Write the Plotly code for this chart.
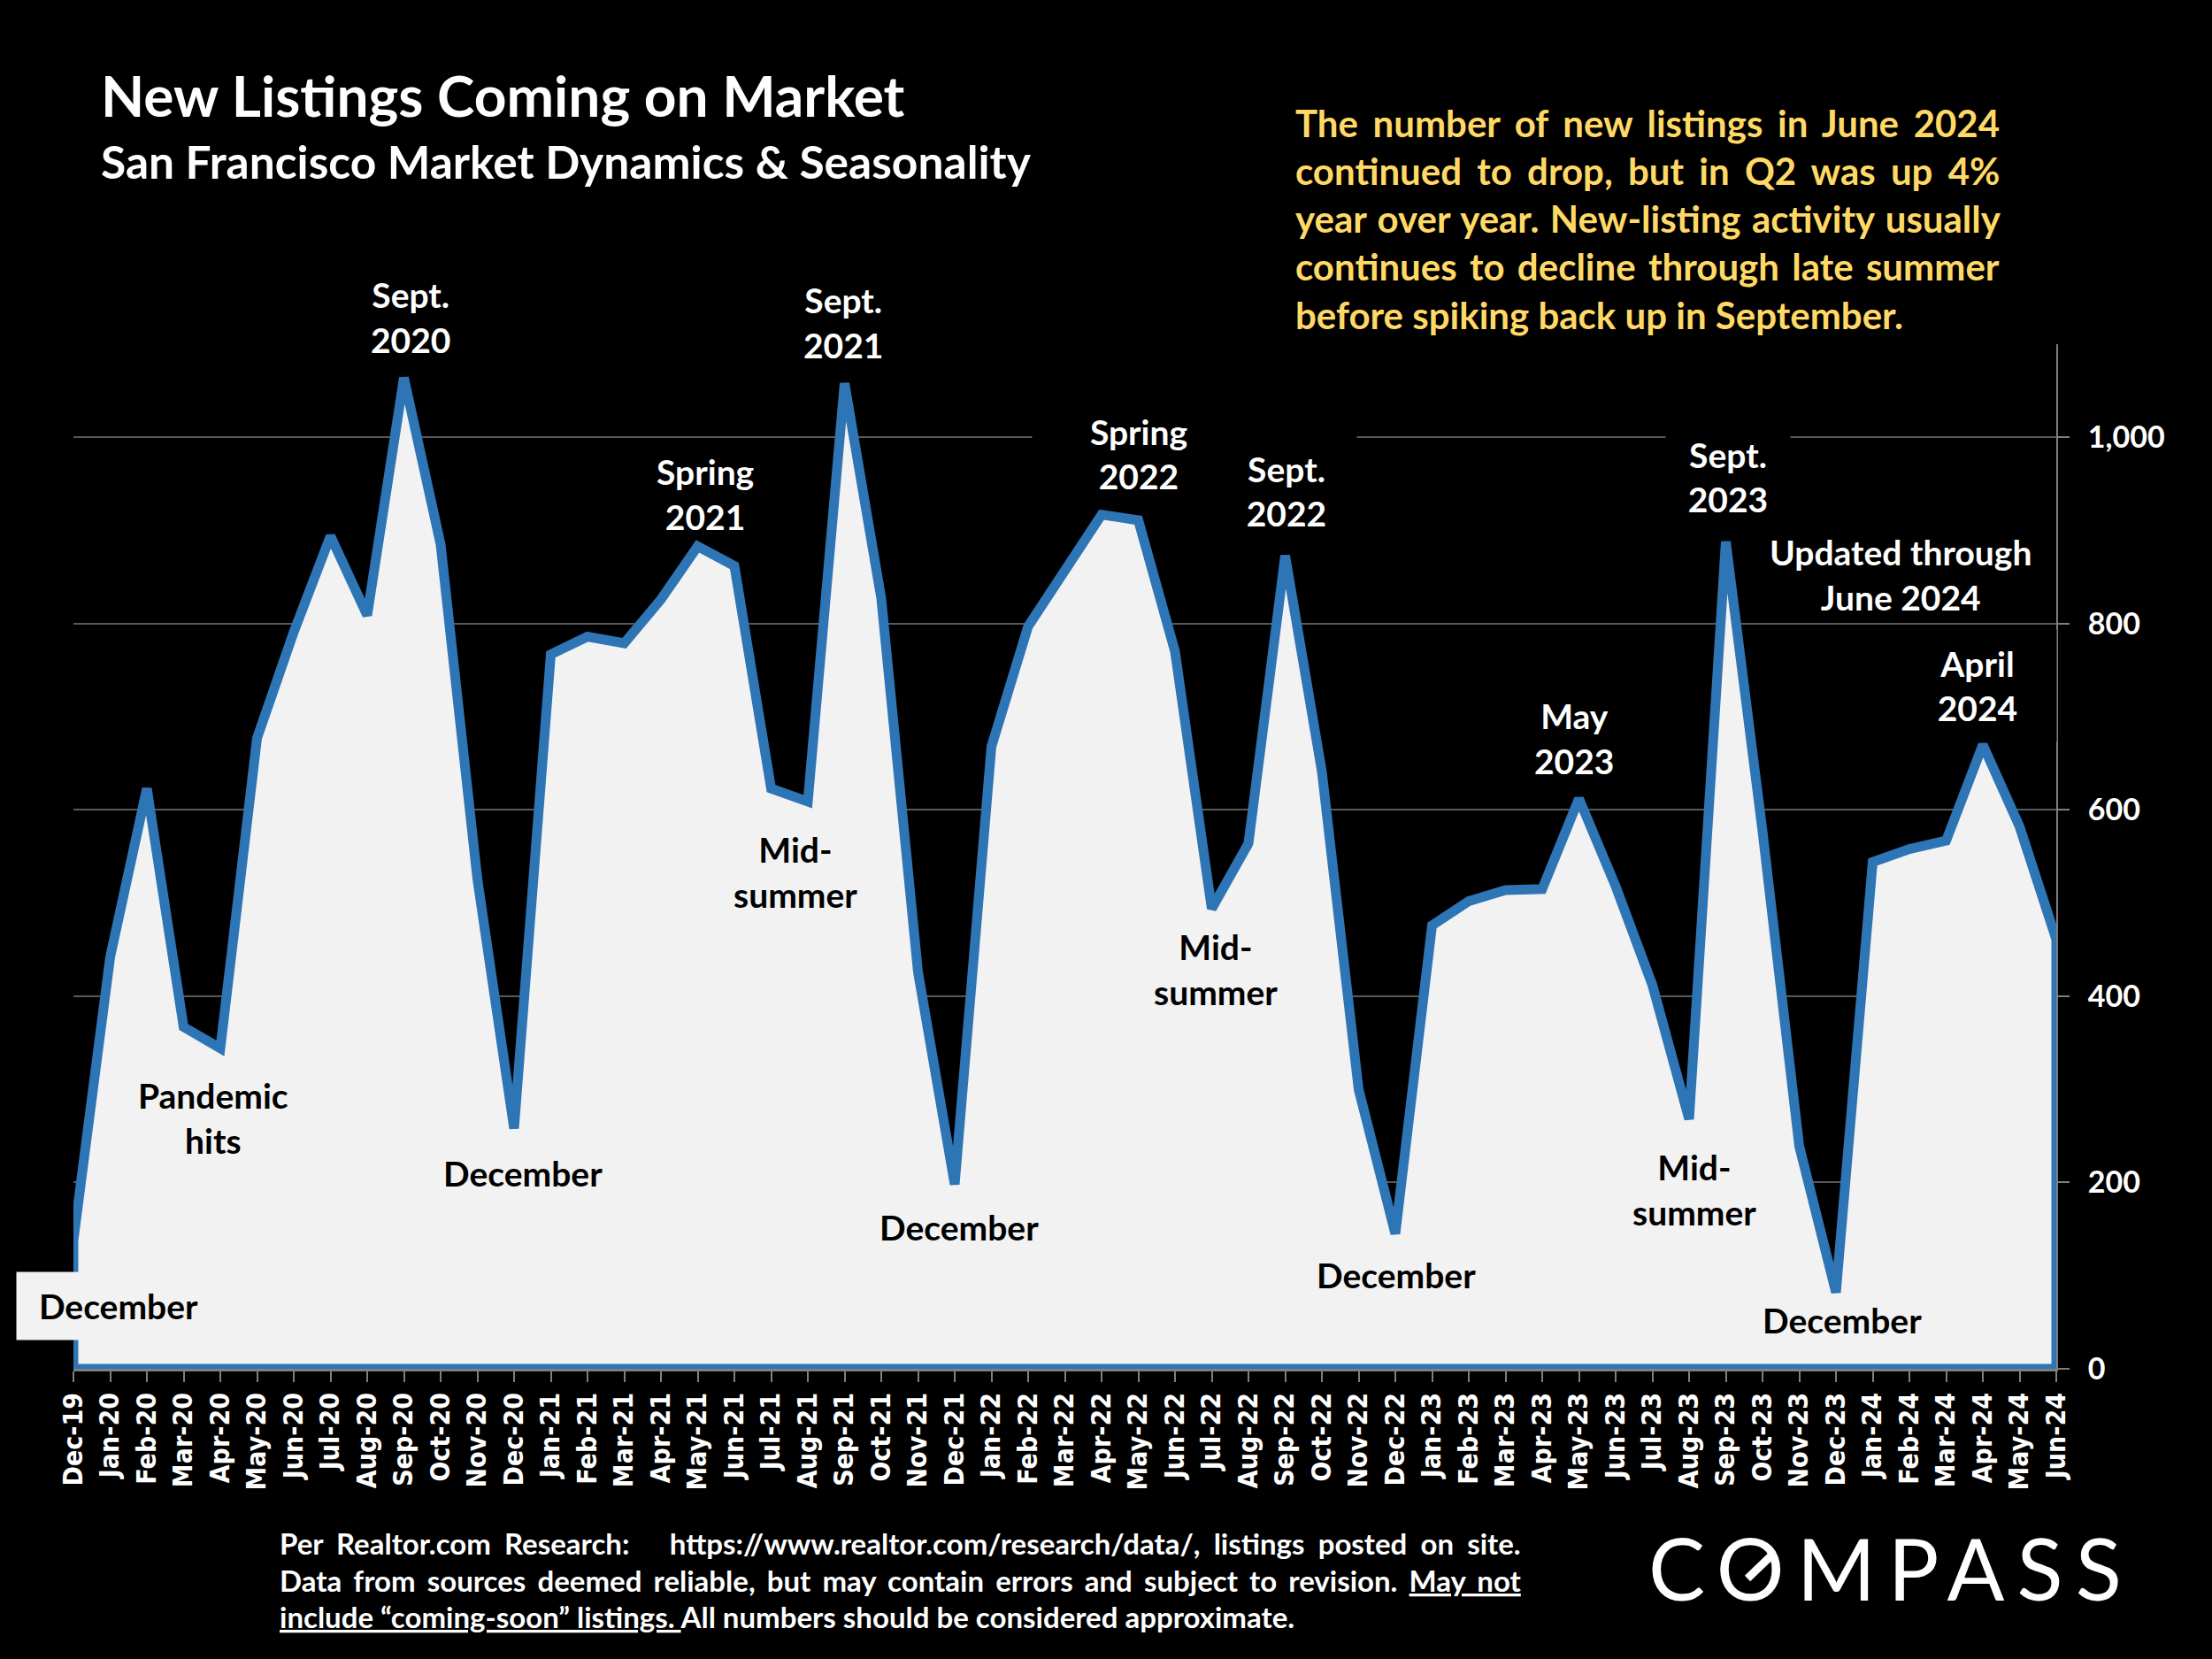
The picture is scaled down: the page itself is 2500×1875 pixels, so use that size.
import plotly.graph_objects as go

months = ["Dec-19","Jan-20","Feb-20","Mar-20","Apr-20","May-20","Jun-20","Jul-20","Aug-20","Sep-20","Oct-20","Nov-20",
          "Dec-20","Jan-21","Feb-21","Mar-21","Apr-21","May-21","Jun-21","Jul-21","Aug-21","Sep-21","Oct-21","Nov-21",
          "Dec-21","Jan-22","Feb-22","Mar-22","Apr-22","May-22","Jun-22","Jul-22","Aug-22","Sep-22","Oct-22","Nov-22",
          "Dec-22","Jan-23","Feb-23","Mar-23","Apr-23","May-23","Jun-23","Jul-23","Aug-23","Sep-23","Oct-23","Nov-23",
          "Dec-23","Jan-24","Feb-24","Mar-24","Apr-24","May-24","Jun-24"]
listings = [138,442,623,367,344,677,791,894,809,1064,885,526,
            258,767,786,779,826,883,862,623,609,1058,827,426,
            198,668,797,856,917,911,770,494,564,873,641,300,
            145,476,502,514,515,612,518,412,268,888,577,239,
            82,544,558,567,670,582,461]
y_ticks = [0,200,400,600,800,1000]

W, H = 2500, 1875
L, R, T, B = 83, 2324, 389, 1547
FONT = "Lato"
BLUE = "#2E75B6"
FILL = "#F2F2F2"

def px(x): return (x - L) / (R - L)
def py(y): return (B - y) / (B - T)

annotations = []
def text(x, y, s, size, color="white", anchor="center", bg=None, ws=None, ls=None, w=None, h=None, weight=700, family=FONT):
    style = ""
    if ws is not None: style += f"word-spacing:{ws}px;"
    if ls is not None: style += f"letter-spacing:{ls}px;"
    if style: s = f'<span style="{style}">{s}</span>'
    a = dict(x=px(x), y=py(y), xref="paper", yref="paper", text=s, showarrow=False, xanchor=anchor, yanchor="middle",
             align=anchor, font=dict(family=family, size=size, color=color, weight=weight), borderpad=0)
    if bg: a["bgcolor"] = bg
    if w: a["width"] = w
    if h: a["height"] = h
    annotations.append(a)

LBL = 39
# callouts on black (some carry an opaque box that interrupts gridlines, as in the source)
for x, y, s, w, h in [
    (464, 358, "Sept.<br>2020", None, None),
    (953, 365, "Sept.<br>2021", None, None),
    (797, 558, "Spring<br>2021", None, None),
    (1287, 513, "Spring<br>2022", 240, 110),
    (1454, 555, "Sept.<br>2022", 158, 130),
    (1953, 539, "Sept.<br>2023", 140, 110),
    (2148, 649, "Updated through<br>June 2024", None, None),
    (1779, 834, "May<br>2023", None, None),
    (2235, 775, "April<br>2024", 178, 126),
]:
    if w:
        text(x, y, s, LBL, bg="black", w=w, h=h)
    else:
        text(x, y, s, LBL)

# callouts on the filled area
for x, y, s in [
    (241, 1263, "Pandemic<br>hits"), (591, 1326, "December"), (899, 985, "Mid-<br>summer"),
    (1084, 1387, "December"), (1374, 1095, "Mid-<br>summer"), (1578, 1441, "December"),
    (1915, 1344, "Mid-<br>summer"), (2082, 1492, "December"),
]:
    text(x, y, s, LBL, color="black")
text(134, 1476, "December", LBL, color="black", bg=FILL, w=230, h=76)

# titles
text(113, 108, "New Listings Coming on Market", 64, anchor="left")
text(113, 182, "San Francisco Market Dynamics &amp; Seasonality", 51.5, anchor="left")

# yellow note
YEL = "#FFD966"
for y, s, ws in [
    (139, "The number of new listings in June 2024", 6.4),
    (193, "continued to drop, but in Q2 was up 4%", 7),
    (247, "year over year. New-listing activity usually", 2.3),
    (301, "continues to decline through late summer", 4.1),
    (356, "before spiking back up in September.", 0),
]:
    text(1463, y, s, 42, color=YEL, anchor="left", ws=ws)

# footer
for y, s, ws in [
    (1744, "Per Realtor.com Research:   https://www.realtor.com/research/data/, listings posted on site.", 7.1),
    (1786, "Data from sources deemed reliable, but may contain errors and subject to revision. <u>May not</u>", 5.1),
    (1827, "<u>include “coming-soon” listings. </u>All numbers should be considered approximate.", 0),
]:
    text(315, y, s, 33, anchor="left", ws=ws)

# logo
text(2137, 1771, "COMPASS", 96, anchor="center", ls=14, weight=400)

fig = go.Figure()
closed_x = list(range(len(months))) + [len(months) - 1, 0, 0]
closed_y = listings + [0, 0, listings[0]]
fig.add_trace(go.Scatter(x=closed_x, y=closed_y, mode="lines", fill="toself", fillcolor=FILL,
                         line=dict(color=BLUE, width=11, shape="linear"), hoverinfo="skip", showlegend=False))

axis_grey = "#7F7F7F"
fig.update_layout(
    width=W, height=H, paper_bgcolor="black", plot_bgcolor="black",
    margin=dict(l=L, r=W - R, t=T, b=H - B, autoexpand=False),
    annotations=annotations, showlegend=False,
    font=dict(family=FONT, color="white"),
    # slash inside the logo's O
    shapes=[dict(type="line", xref="paper", yref="paper", x0=px(1975), y0=py(1784), x1=px(2001), y1=py(1759),
                 line=dict(color="white", width=9), layer="above")],
    xaxis=dict(range=[0, len(months) - 1], tickmode="array", tickvals=list(range(len(months))), ticktext=months,
               tickangle=-90, showgrid=False, showline=True, linecolor=axis_grey, linewidth=3, ticks="outside",
               ticklen=12, tickwidth=2, tickcolor=axis_grey, zeroline=False,
               tickfont=dict(family="DejaVu Sans Condensed, DejaVu Sans", size=30, color="white", weight=700)),
    yaxis=dict(range=[0, 1100], side="right", tickmode="array", tickvals=y_ticks, ticktext=["0","200","400","600","800","1,000"],
               showgrid=True, gridcolor="#595959", gridwidth=2, showline=True, linecolor=axis_grey, linewidth=2,
               ticks="outside", ticklen=13, tickwidth=2, tickcolor=axis_grey, zeroline=False, ticklabelstandoff=14,
               tickfont=dict(family=FONT, size=34, color="white", weight=700)),
)
fig.write_html("out.html", config=dict(displayModeBar=False),
               post_script="document.body.style.margin='0';document.body.style.background='black';")
